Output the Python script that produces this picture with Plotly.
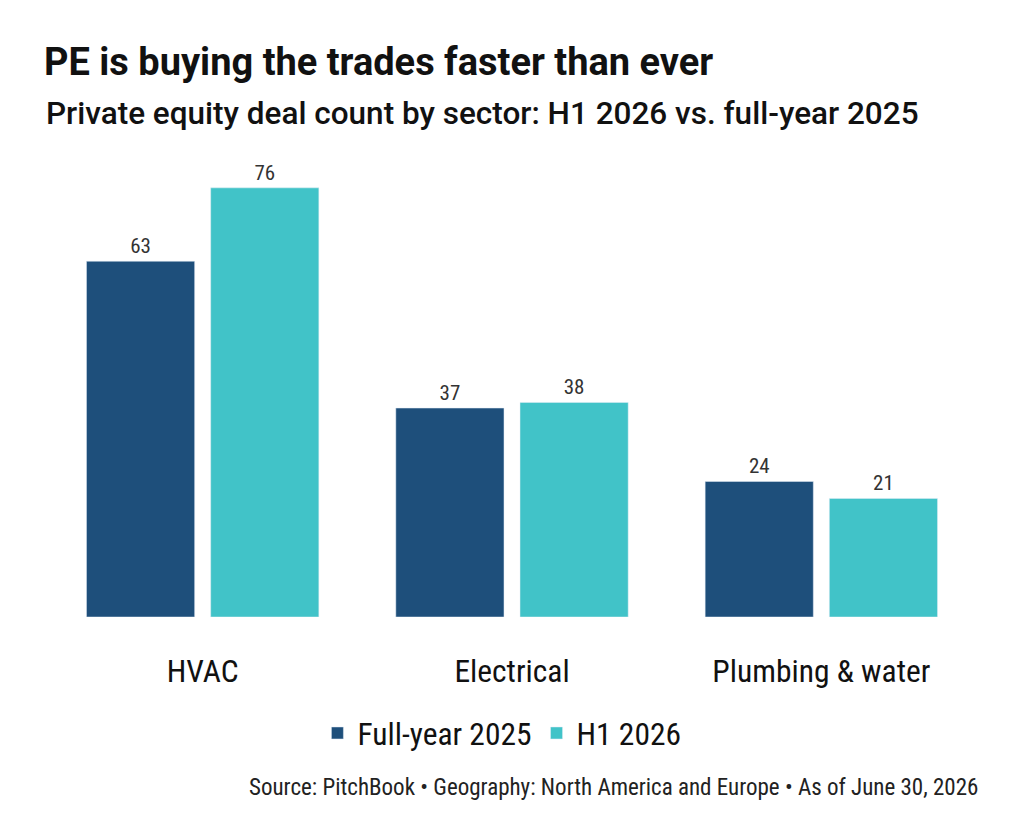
import plotly.graph_objects as go

sectors = ['HVAC', 'Electrical', 'Plumbing & water']
full_year_2025 = [63, 37, 24]
h1_2026 = [76, 38, 21]
series_names = ['Full-year 2025', 'H1 2026']

colors = ['#1e4f7b', '#41c3c8']
cond = 'Roboto Condensed, Liberation Sans Narrow, Arial Narrow, DejaVu Sans Condensed, sans-serif'

W, H = 1008, 812
L, R, T, B = 40, 40, 142, 203
PW, PH = W - L - R, H - T - B

fig = go.Figure()
for name, vals, col in zip(series_names, [full_year_2025, h1_2026], colors):
    fig.add_trace(go.Bar(
        x=sectors, y=vals, name=name, marker_color=col,
        text=vals, textposition='outside', cliponaxis=False,
        textfont=dict(family=cond, size=21, color='#333333'),
    ))

fig.update_layout(
    width=W, height=H,
    paper_bgcolor='white', plot_bgcolor='white',
    margin=dict(l=L, r=R, t=T, b=B),
    barmode='group', bargap=0.197, bargroupgap=0.129,
    font=dict(family='Roboto, sans-serif', color='#111111'),
    title=dict(
        text='<b>PE is buying the trades faster than ever</b>',
        x=36 / W, xanchor='left', xref='container',
        y=1 - 54 / H, yanchor='middle', yref='container',
        font=dict(size=38, color='#111111'),
    ),
    xaxis=dict(
        showline=False, showgrid=False, zeroline=False,
        ticks='outside', ticklen=26, tickcolor='rgba(0,0,0,0)',
        tickfont=dict(family=cond, size=31.5, color='#111111'),
    ),
    yaxis=dict(range=[0, 82.7], visible=False),
    legend=dict(
        orientation='h', xref='container', yref='container',
        x=0.49, xanchor='center', y=1 - 725 / H, yanchor='middle',
        font=dict(family=cond, size=31.5, color='#111111'),
        itemwidth=30, traceorder='normal',
    ),
    annotations=[
        dict(
            text='Private equity deal count by sector: H1 2026 vs. full-year 2025',
            xref='paper', yref='paper', x=(36 - L) / PW, y=1 + (T - 105) / PH,
            xanchor='left', yanchor='middle', showarrow=False,
            font=dict(family='Roboto, sans-serif', size=31.5, color='#111111', weight=500),
        ),
        dict(
            text='Source: PitchBook • Geography: North America and Europe • As of June 30, 2026',
            xref='paper', yref='paper', x=1 + 4 / PW, y=-(779 - (H - B)) / PH,
            xanchor='right', yanchor='middle', showarrow=False,
            font=dict(family=cond, size=23, color='#222222'),
        ),
    ],
)

fig.write_html('out.html')
